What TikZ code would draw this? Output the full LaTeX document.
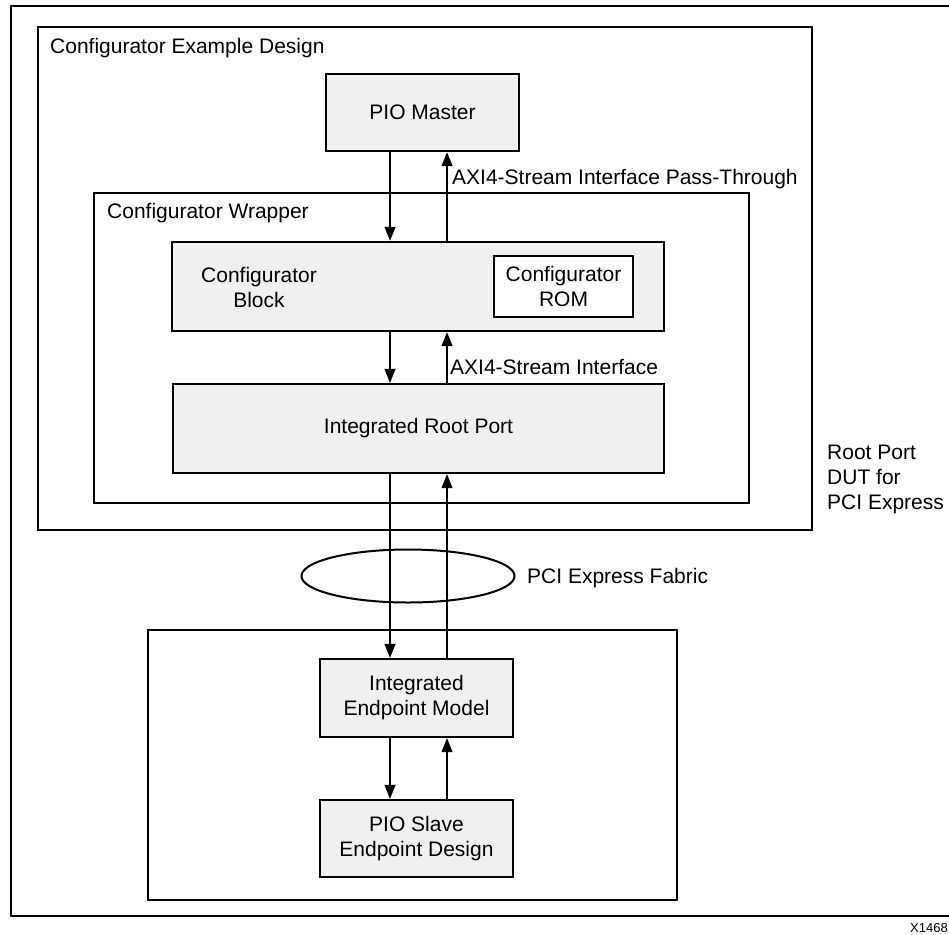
\documentclass[tikz,border=0pt]{standalone}
\usepackage{fontspec}
\setmainfont{Liberation Sans}
\usetikzlibrary{arrows.meta,shapes.geometric}
\definecolor{boxfill}{RGB}{240,240,240}
\begin{document}
\begin{tikzpicture}[x=1pt,y=-1pt,
  txt/.style={font=\fontsize{21}{25}\selectfont, inner sep=0pt},
  frame/.style={draw=black, line width=2.4pt, rectangle, inner sep=0pt},
  blk/.style={draw=black, line width=2.4pt, rectangle, fill=boxfill, inner sep=0pt, align=center, font=\fontsize{21}{25}\selectfont},
  arr/.style={line width=1.3pt, -{Triangle[length=14pt,width=11pt]}}
]
\useasboundingbox (0,0) rectangle (949,934);
\fill[white] (0,0) rectangle (949,934);

% outermost frame (right side beyond the picture)
\coordinate (otr) at (955,6);
\coordinate (otl) at (11,6);
\coordinate (obl) at (11,916);
\coordinate (obr) at (955,916);
\draw[line width=2.6pt] (otr) -- (otl) -- (obl) -- (obr);

% containers
\node[frame, minimum width=774pt, minimum height=503pt] (design) at (425,278.5) {};
\node[txt, anchor=base west] (designlbl) at (50,53) {Configurator Example Design};
\node[frame, minimum width=655pt, minimum height=310pt] (wrap) at (421.5,348) {};
\node[txt, anchor=base west] (wraplbl) at (107,218) {Configurator Wrapper};
\node[frame, minimum width=529pt, minimum height=270pt] (epbox) at (412.5,765) {};

% blocks
\node[blk, minimum width=193pt, minimum height=77pt] (pio) at (422.5,112.5) {PIO Master};
\node[blk, minimum width=492pt, minimum height=89pt] (cfg) at (418,286.5) {};
\node[txt, align=center] (cfgtxt) at (259,287) {Configurator\\Block};
\node[blk, fill=white, minimum width=139pt, minimum height=61pt] (rom) at (563.5,286.5) {Configurator\\ROM};
\node[blk, minimum width=491pt, minimum height=89pt] (rp) at (418.5,428.5) {Integrated Root Port};
\node[draw, ellipse, line width=2pt, minimum width=213pt, minimum height=53pt, inner sep=0pt] (fab) at (408,576) {};
\node[blk, minimum width=193pt, minimum height=78pt] (ep) at (416.5,698) {Integrated\\Endpoint Model};
\node[blk, minimum width=193pt, minimum height=77pt] (slave) at (416.5,838.5) {PIO Slave\\Endpoint Design};

% connector columns
\coordinate (dn) at (390,0);
\coordinate (upc) at (447,0);

\draw[arr] (pio.south -| dn) -- (cfg.north -| dn);
\draw[arr] (cfg.north -| upc) -- (pio.south -| upc);
\draw[arr] (cfg.south -| dn) -- (rp.north -| dn);
\draw[arr] (rp.north -| upc) -- (cfg.south -| upc);
\draw[arr] (rp.south -| dn) -- (ep.north -| dn);
\draw[arr] (ep.north -| upc) -- (rp.south -| upc);
\draw[arr] (ep.south -| dn) -- (slave.north -| dn);
\draw[arr] (slave.north -| upc) -- (ep.south -| upc);

% labels
\node[txt, anchor=base west] (axipt) at (452,184) {AXI4-Stream Interface Pass-Through};
\node[txt, anchor=base west] (axi) at (450,374) {AXI4-Stream Interface};
\node[txt, anchor=base west] (fablbl) at (527,583) {PCI Express Fabric};
\node[txt, anchor=base west] (rp1) at (827,459) {Root Port};
\node[txt, anchor=base west] (rp2) at (827,484) {DUT for};
\node[txt, anchor=base west] (rp3) at (827,509) {PCI Express};
\node[inner sep=0pt, anchor=base east, font=\fontsize{13}{15}\selectfont] (fig) at (948,932) {X1468};
\end{tikzpicture}
\end{document}
